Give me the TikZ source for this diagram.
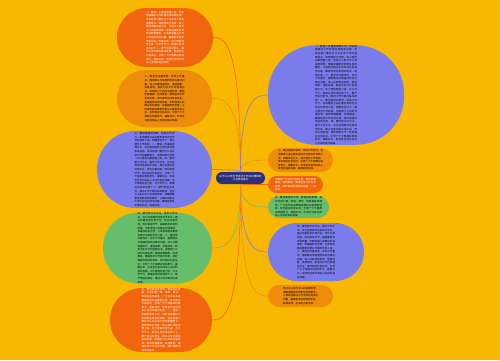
\documentclass[tikz,border=0pt]{standalone}
\usepackage{fontspec}
\setmainfont{Noto Sans CJK SC}
\XeTeXlinebreaklocale "zh"
\XeTeXlinebreakskip=0pt plus 0.5pt
\definecolor{bg}{HTML}{F8B700}
\definecolor{cOR}{HTML}{F2650F}
\definecolor{cOG}{HTML}{F08C0C}
\definecolor{cBL}{HTML}{7A7CEB}
\definecolor{cGR}{HTML}{66BE6C}
\definecolor{cNV}{HTML}{2E2F7C}
\newcommand\xta{一、要进一步提高思想认识，切实增强做好工作的责任感和紧迫感。各级各部门要充分认识此项工作的重要意义，把思想和行动统一到上级的决策部署上来。}
\newcommand\xtb{坚持以人民为中心的发展思想，准确把握新形势新任务新要求，认真研究解决工作中存在的突出问题，确保各项任务落到实处、取得实效。}
\newcommand\xtc{二、要坚持问题导向，突出工作重点。围绕群众反映强烈的热点难点问题，深入开展调查研究，摸清底数，找准症结，制定切实可行的措施办法。}
\newcommand\xtd{加大督促检查力度，对工作不力、推诿扯皮的单位和个人，要严肃追究责任，推动工作不断向纵深发展。}
\newcommand\xte{三、要加强组织领导，形成工作合力。各地要成立由主要负责同志任组长的领导小组，明确责任分工，建立健全工作机制。}
\newcommand\xtf{加强部门之间的沟通协调，做到统筹兼顾、协调推进，确保各项工作有序开展，按时保质完成目标任务。}
\newcommand\xtg{四、要创新方式方法，提升工作水平。充分运用现代信息技术手段，建立完善信息共享平台，优化办事流程，简化审批环节。}
\newcommand\xth{提高服务效率和质量，不断增强人民群众的获得感、幸福感和安全感，让改革发展成果更多更公平惠及全体人民。}
\newcommand\xti{五、要加强宣传引导，营造良好氛围。充分利用广播、电视、报刊、网络等各类媒体，广泛宣传有关政策措施和先进典型经验。}
\newcommand\xtj{及时回应社会关切，引导广大干部群众积极参与，凝聚共识，形成全社会共同关心支持的良好局面。}
\tikzset{
  blob/.style={inner sep=0pt, align=justify, font=\fontsize{2.5}{3.6}\selectfont},
  conn/.style={line width=0.6pt},
}
\begin{document}
\begin{tikzpicture}[x=1pt,y=-1pt]
\fill[bg] (0,0) rectangle (500,360);
\useasboundingbox (0,0) rectangle (500,360);
% left
\node[blob, fill=cOR, text=white, minimum width=96pt, minimum height=59pt, rounded corners=29.5pt, text width=38pt] (l1) at (165,37.5) {\xta\xtb\xtd\xtj};
\node[blob, fill=cOG, text=black, minimum width=95pt, minimum height=57pt, rounded corners=28.5pt, text width=40pt] (l2) at (164.5,98.5) {\xtc\xtf\xth\xtj};
\node[blob, fill=cBL, text=black, minimum width=115pt, minimum height=77pt, rounded corners=38.5pt, text width=40pt] (l3) at (154.5,169.5) {\xte\xta\xtg\xtj\xtd\xtb};
\node[blob, fill=cGR, text=black, minimum width=109pt, minimum height=70pt, rounded corners=35pt, text width=40pt] (l4) at (157.5,248) {\xtg\xth\xtc\xtf\xtj\xtd};
\node[blob, fill=cOR, text=white, minimum width=102pt, minimum height=64pt, rounded corners=32pt, text width=39pt] (l5) at (161,320) {\xti\xtj\xta\xtd\xtf};
% right
\node[blob, fill=cBL, text=black, minimum width=136pt, minimum height=96pt, rounded corners=48pt, text width=42pt] (r1) at (336,95) {\xta\xtb\xtc\xtd\xte\xtf\xtg\xtj};
\node[blob, fill=cOG, text=black, minimum width=65pt, minimum height=24pt, rounded corners=12pt, text width=45pt] (r2) at (300.5,160) {\xte\xtj{}确保取得实效。};
\node[blob, fill=cOR, text=white, minimum width=55pt, minimum height=17pt, rounded corners=8.5pt, text width=41pt] (r3) at (295.5,184.5) {\xtf{}一抓到底。};
\node[blob, fill=cGR, text=black, minimum width=61pt, minimum height=22pt, rounded corners=11pt, text width=47pt] (r4) at (298.5,207) {\xti\xtj};
\node[blob, fill=cBL, text=black, minimum width=96pt, minimum height=58pt, rounded corners=29pt, text width=38pt] (r5) at (316,252) {\xtg\xth\xtc\xtj};
\node[blob, fill=cOG, text=black, minimum width=65pt, minimum height=22pt, rounded corners=11pt, text width=35pt] (r6) at (300.5,296) {\xtb{}坚决防止走过场。};
% center
\node[fill=cNV, text=white, rounded corners=6pt, minimum width=49pt, minimum height=12pt, inner sep=0pt, align=center, font=\fontsize{2.6}{3.3}\selectfont] (c) at (240.5,178) {关于2017年全市经济工作会议精神的\\几点贯彻意见};
% connectors
\foreach \n/\col in {l1/cOR,l2/cOG,l3/cBL}
  \draw[conn,\col] (c.north) .. controls (c.north |- \n.east) and ([xshift=10pt]\n.east) .. (\n.east);
\foreach \n/\col in {l4/cGR,l5/cOR}
  \draw[conn,\col] (c.south) .. controls (c.south |- \n.east) and ([xshift=10pt]\n.east) .. (\n.east);
\foreach \n/\col in {r1/cBL,r2/cOG}
  \draw[conn,\col] (c.north) .. controls (c.north |- \n.west) and ([xshift=-10pt]\n.west) .. (\n.west);
\foreach \n/\col in {r3/cOR,r4/cGR,r5/cBL,r6/cOG}
  \draw[conn,\col] (c.south) .. controls (c.south |- \n.west) and ([xshift=-10pt]\n.west) .. (\n.west);
\end{tikzpicture}
\end{document}
